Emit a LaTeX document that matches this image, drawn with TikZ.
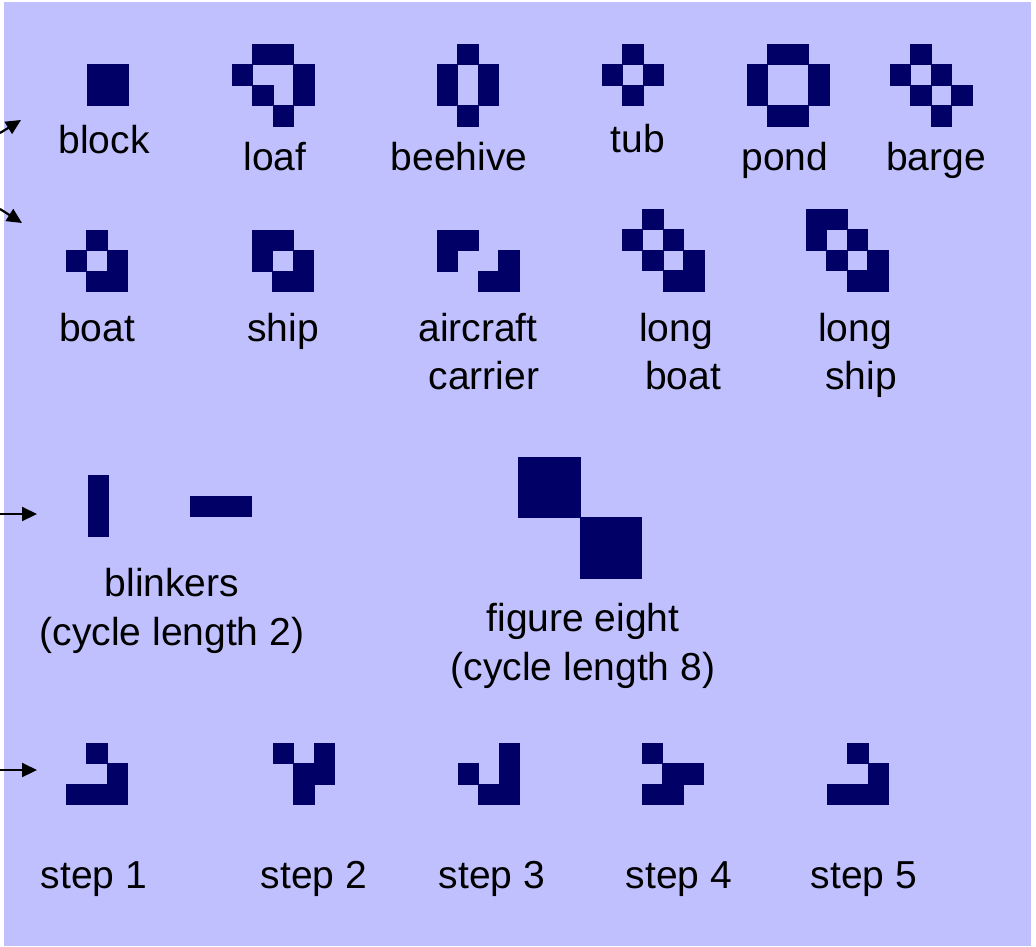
\documentclass[tikz,border=0pt]{standalone}
\usepackage{fontspec}
\setmainfont{Liberation Sans}
\usetikzlibrary{arrows.meta}
\definecolor{bgc}{RGB}{192,192,255}
\definecolor{cellc}{RGB}{0,0,102}
\newcommand\lifepat[3]{%
  \foreach \c/\r in {#3}{\path[cell] ({#1+\c*20.5},{#2+\r*20.5}) rectangle ++(20.5,20.5);}}
\begin{document}
\begin{tikzpicture}[x=1pt,y=-1pt,
  cell/.style={fill=cellc,draw=cellc,line width=0.4pt},
  lbl/.style={anchor=base,inner sep=0pt,font=\fontsize{39}{47}\selectfont,text=black},
  arr/.style={-{Triangle[length=15pt,width=14pt]},line width=2.2pt}]
\useasboundingbox (0,0) rectangle (1036,946);
\fill[white] (0,0) rectangle (1036,946);
\fill[bgc] (4,2) rectangle (1031,946);

% still lifes, first row
\lifepat{87}{64}{0/0,1/0,0/1,1/1}
\lifepat{232}{44}{1/0,2/0,0/1,3/1,1/2,3/2,2/3}
\lifepat{437}{44}{1/0,0/1,2/1,0/2,2/2,1/3}
\lifepat{602}{44}{1/0,0/1,2/1,1/2}
\lifepat{747}{44}{1/0,2/0,0/1,3/1,0/2,3/2,1/3,2/3}
\lifepat{890}{44}{1/0,0/1,2/1,1/2,3/2,2/3}
\node[lbl] (block) at (104,153) {block};
\node[lbl] (loaf) at (275,170) {loaf};
\node[lbl] (beehive) at (459,170) {beehive};
\node[lbl] (tub) at (638,152) {tub};
\node[lbl] (pond) at (785,170) {pond};
\node[lbl] (barge) at (936,170) {barge};

% still lifes, second row
\lifepat{66}{230}{1/0,0/1,2/1,1/2,2/2}
\lifepat{252}{230}{0/0,1/0,0/1,2/1,1/2,2/2}
\lifepat{437}{230}{0/0,1/0,0/1,3/1,2/2,3/2}
\lifepat{622}{209}{1/0,0/1,2/1,1/2,3/2,2/3,3/3}
\lifepat{806}{209}{0/0,1/0,0/1,2/1,1/2,3/2,2/3,3/3}
\node[lbl] (boat) at (97,341) {boat};
\node[lbl] (ship) at (283,341) {ship};
\node[lbl] (aircraft) at (478,341) {aircraft};
\node[lbl] (carrier) at (484,389) {carrier};
\node[lbl] (long1) at (676,341) {long};
\node[lbl] (boat2) at (683,389) {boat};
\node[lbl] (long2) at (855,341) {long};
\node[lbl] (ship2) at (861,389) {ship};

% oscillators
\lifepat{88}{475}{0/0,0/1,0/2}
\lifepat{190}{496}{0/0,1/0,2/0}
\path[cell] (518,457) rectangle (580,517);
\path[cell] (580,517) rectangle (641,578);
\node[lbl] (blinkers) at (172,596) {blinkers};
\node[lbl] (cycle2) at (172,645) {(cycle length 2)};
\node[lbl] (figeight) at (583,631) {figure eight};
\node[lbl] (cycle8) at (583,680) {(cycle length 8)};

% glider
\lifepat{66}{743}{1/0,2/1,0/2,1/2,2/2}
\lifepat{273}{743}{0/0,2/0,1/1,2/1,1/2}
\lifepat{458}{743}{2/0,0/1,2/1,1/2,2/2}
\lifepat{642}{743}{0/0,1/1,2/1,0/2,1/2}
\lifepat{827}{743}{1/0,2/1,0/2,1/2,2/2}
\node[lbl] (step1) at (94,888) {step 1};
\node[lbl] (step2) at (314,888) {step 2};
\node[lbl] (step3) at (492,888) {step 3};
\node[lbl] (step4) at (679,888) {step 4};
\node[lbl] (step5) at (864,888) {step 5};

% arrows coming from the left
\coordinate (a1s) at (0,133);
\coordinate (a1e) at (21,120);
\coordinate (a2s) at (0,209);
\coordinate (a2e) at (22,223);
\coordinate (a3s) at (0,514);
\coordinate (a3e) at (37,514);
\coordinate (a4s) at (0,770);
\coordinate (a4e) at (37,770);
\draw[arr] (a1s) -- (a1e);
\draw[arr] (a2s) -- (a2e);
\draw[arr] (a3s) -- (a3e);
\draw[arr] (a4s) -- (a4e);
\end{tikzpicture}
\end{document}
